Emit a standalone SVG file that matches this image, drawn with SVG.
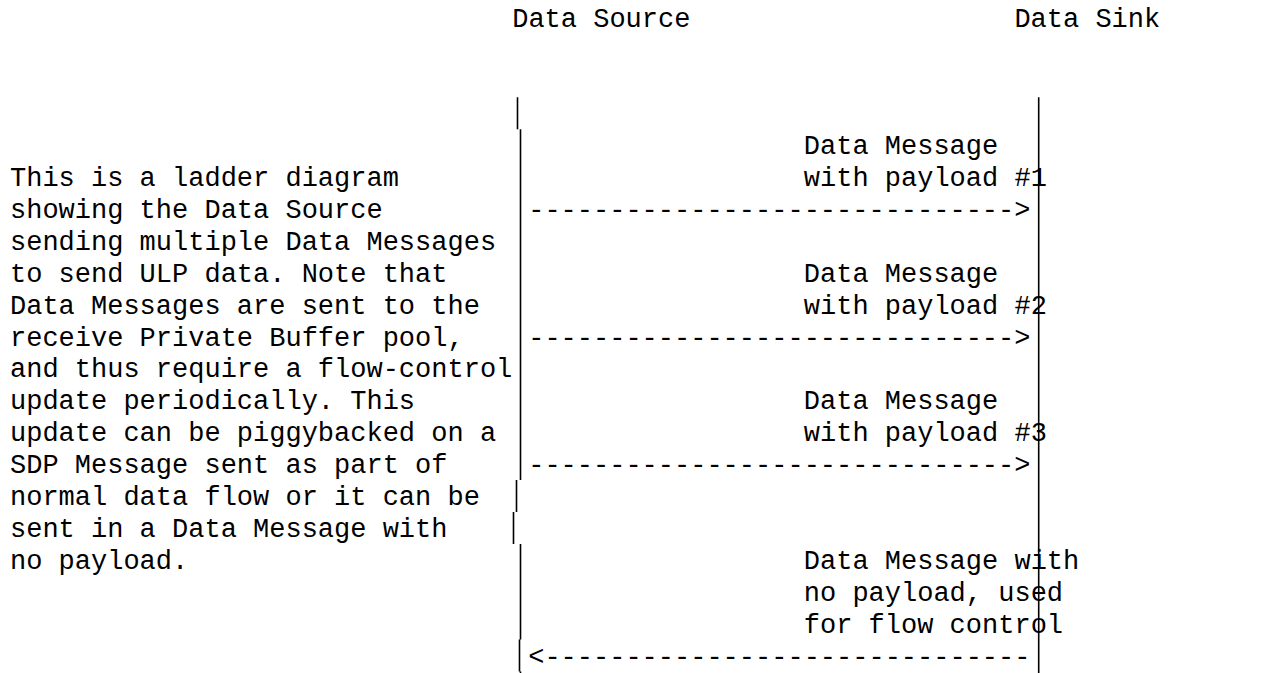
<svg xmlns="http://www.w3.org/2000/svg" width="1287" height="673" viewBox="0 0 1287 673">
<style>
text{font-family:"Liberation Mono","Courier New",monospace;font-size:27px;fill:#000;white-space:pre}
.life{stroke:#000;stroke-width:1.6;fill:none}
</style>
<rect width="1287" height="673" fill="#fff"/>
<g id="data-source"><text x="512.2" y="26.5">Data Source</text></g>
<g id="data-sink"><text x="1014.4" y="26.5">Data Sink</text></g>
<g id="note">
<text x="10" y="186">This is a ladder diagram</text>
<text x="10" y="217.9">showing the Data Source</text>
<text x="10" y="249.8">sending multiple Data Messages</text>
<text x="10" y="281.7">to send ULP data. Note that</text>
<text x="10" y="313.6">Data Messages are sent to the</text>
<text x="10" y="345.5">receive Private Buffer pool,</text>
<text x="10" y="377.4">and thus require a flow-control</text>
<text x="10" y="409.3">update periodically. This</text>
<text x="10" y="441.2">update can be piggybacked on a</text>
<text x="10" y="473.1">SDP Message sent as part of</text>
<text x="10" y="505">normal data flow or it can be</text>
<text x="10" y="536.9">sent in a Data Message with</text>
<text x="10" y="568.8">no payload.</text>
</g>
<g id="msg1"><text x="803.8" y="154.1">Data Message</text><text x="803.8" y="186">with payload #1</text></g>
<g id="msg2"><text x="803.8" y="281.7">Data Message</text><text x="803.8" y="313.6">with payload #2</text></g>
<g id="msg3"><text x="803.8" y="409.3">Data Message</text><text x="803.8" y="441.2">with payload #3</text></g>
<g id="msg4"><text x="803.8" y="568.8">Data Message with</text><text x="803.8" y="600.7">no payload, used</text><text x="803.8" y="632.6">for flow control</text></g>
<g id="connectors">
<path class="life" d="M517.5 97.3V129.2M520.5 129.2V161.1M520.5 161.1V193M520.5 193V224.9M520.5 224.9V256.8M520.5 256.8V288.7M520.5 288.7V320.6M520.5 320.6V352.5M520.5 352.5V384.4M520.5 384.4V416.3M520.5 416.3V448.2M520.5 448.2V480.1M516.5 480.1V512M513.5 512V543.9M520.5 543.9V575.8M520.5 575.8V607.7M520.5 607.7V639.6M519.5 639.6V671.5M520.5 671.5V703"/>
<path class="life" d="M1038.7 97.3V703"/>
<text x="528.2" y="217.9">------------------------------&gt;</text>
<text x="528.2" y="345.5">------------------------------&gt;</text>
<text x="528.2" y="473.1">------------------------------&gt;</text>
<text x="528.2" y="664.5">&lt;------------------------------</text>
</g>
</svg>
